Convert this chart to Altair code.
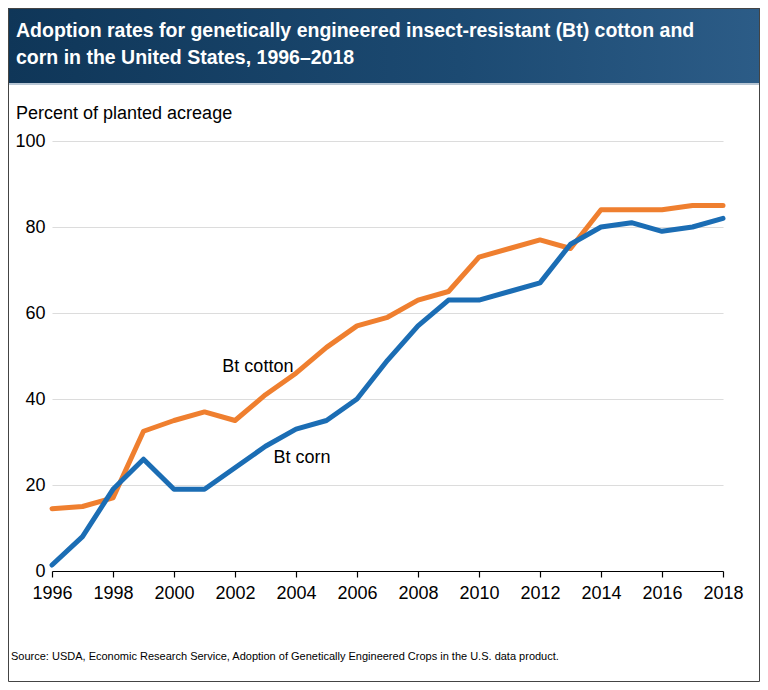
import altair as alt
import pandas as pd

years = list(range(1996, 2019))
cotton = [14.5, 15, 17, 32.5, 35, 37, 35, 41, 46, 52, 57, 59, 63, 65, 73, 75, 77, 75, 84, 84, 84, 85, 85]
corn = [1.4, 8, 19, 26, 19, 19, 24, 29, 33, 35, 40, 49, 57, 63, 63, 65, 67, 76, 80, 81, 79, 80, 82]
series_names = ["Bt cotton", "Bt corn"]
series_colors = ["#ef7f2f", "#1b6db4"]
label_years = [2002.75, 2004.2]
label_values = [47.4, 26.3]
y_ticks = [0, 20, 40, 60, 80, 100]

title_lines = [
    "Adoption rates for genetically engineered insect-resistant (Bt) cotton and",
    "corn in the United States, 1996\u20132018",
]
y_title = "Percent of planted acreage"
source = "Source: USDA, Economic Research Service, Adoption of Genetically Engineered Crops in the U.S. data product."

W, H = 671, 430
PL, PT, PR, PB = 44, 133, 37, 111
FONT = "Liberation Sans"

df = pd.DataFrame({
    "year": years * 2,
    "value": cotton + corn,
    "series": [series_names[0]] * len(years) + [series_names[1]] * len(years),
})
lab = pd.DataFrame({"year": label_years, "value": label_values, "series": series_names})

xscale = alt.Scale(domain=[1996, 2018], nice=False, zero=False)
yscale = alt.Scale(domain=[0, 100], nice=False)
cscale = alt.Scale(domain=series_names, range=series_colors)

base = alt.Chart(df)

lines = base.mark_line(strokeWidth=5, strokeCap="round", strokeJoin="round").encode(
    x=alt.X("year:Q", scale=xscale,
            axis=alt.Axis(values=years, format="d", title=None, grid=False,
                          labelExpr="datum.value % 2 == 0 ? datum.label : ''",
                          tickSize=6, tickColor="#000", domainColor="#000",
                          tickWidth=1.2, domainWidth=1.2,
                          labelFontSize=18, labelFont=FONT, labelColor="#000",
                          labelPadding=7, labelFlush=False, labelOverlap=False)),
    y=alt.Y("value:Q", scale=yscale,
            axis=alt.Axis(values=y_ticks, title=None, domain=False, ticks=False, tickSize=0,
                          gridColor="#dcdcdc", gridWidth=1.2,
                          labelFontSize=18, labelFont=FONT, labelColor="#000",
                          labelPadding=7)),
    color=alt.Color("series:N", scale=cscale, legend=None),
    detail="series:N",
)

labels = alt.Chart(lab).mark_text(fontSize=18, font=FONT, color="#000").encode(
    x=alt.X("year:Q", scale=xscale),
    y=alt.Y("value:Q", scale=yscale),
    text="series:N",
)

one = pd.DataFrame({"k": [0]})

bar = alt.Chart(one).mark_rect(
    color=alt.Gradient(
        gradient="linear",
        stops=[alt.GradientStop(color="#0f3658", offset=0),
               alt.GradientStop(color="#1c4a72", offset=0.6),
               alt.GradientStop(color="#2c5c87", offset=1)],
        x1=0, x2=1, y1=0, y2=0,
    )
).encode(x=alt.value(-PL), x2=alt.value(W + PR), y=alt.value(-PT), y2=alt.value(-58))

bar_line = alt.Chart(one).mark_rule(color="#9fb3c6", strokeWidth=1.5).encode(
    x=alt.value(-PL), x2=alt.value(W + PR), y=alt.value(-57))

border = alt.Chart(one).mark_rect(fill=None, stroke="#444", strokeWidth=1).encode(
    x=alt.value(-PL + 0.5), x2=alt.value(W + PR - 0.5), y=alt.value(-PT + 0.5), y2=alt.value(H + PB - 0.5))

t1 = alt.Chart(one).mark_text(text=title_lines[0], align="left", baseline="alphabetic",
                              fontSize=19.5, font=FONT, fontWeight="bold", color="#fff").encode(
    x=alt.value(-36), y=alt.value(-104))
t2 = alt.Chart(one).mark_text(text=title_lines[1], align="left", baseline="alphabetic",
                              fontSize=19.5, font=FONT, fontWeight="bold", color="#fff").encode(
    x=alt.value(-36), y=alt.value(-77))
yt = alt.Chart(one).mark_text(text=y_title, align="left", baseline="alphabetic",
                              fontSize=18, font=FONT, color="#000").encode(
    x=alt.value(-36), y=alt.value(-22))
src = alt.Chart(one).mark_text(text=source, align="left", baseline="alphabetic",
                               fontSize=11, font=FONT, color="#000").encode(
    x=alt.value(-41), y=alt.value(519))

chart = alt.layer(bar, bar_line, border, lines, labels, t1, t2, yt, src).properties(
    width=W, height=H,
    autosize=alt.AutoSizeParams(type="none"),
    padding={"left": PL, "top": PT, "right": PR, "bottom": PB},
    background="white",
).configure_view(stroke=None)

chart.save("out.html", embed_options={"renderer": "svg", "actions": False})
